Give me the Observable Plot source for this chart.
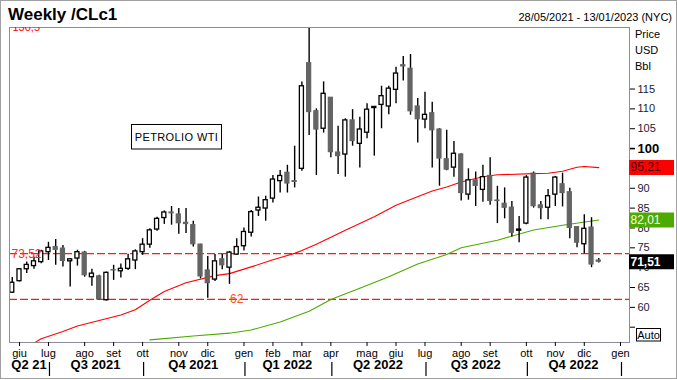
<!DOCTYPE html>
<html><head><meta charset="utf-8">
<script src="https://cdn.jsdelivr.net/npm/d3@7"></script>
<script src="https://cdn.jsdelivr.net/npm/@observablehq/plot@0.6"></script>
<style>
body{margin:0;background:#fff;font-family:Arial,"Liberation Sans",sans-serif;}
#wrap{position:relative;width:677px;height:380px;overflow:hidden;background:#fff;}
#wrap svg.plot{position:absolute;left:0;top:0;}
#over{position:absolute;left:0;top:0;pointer-events:none;}
</style></head><body>
<div id="wrap"></div>
<script>
// ---- data (weekly WTI candles, first week ending 2021-05-28) ----
const firstWeek = "2021-05-28";
const open = [63.7,66.6,69.6,70.4,71.4,73.9,75.2,74.8,71.6,72.3,
73.8,67.6,67.8,61.8,69.4,69.1,69.7,71.8,73.9,75.8,
79.6,82.5,83.9,83.4,81.3,80.7,75.8,69.3,67.0,72.1,
70.0,73.3,75.4,78.8,84.4,84.9,87.4,91.8,93.9,91.8,
94.9,121.5,109.4,105.0,112.8,99.0,98.5,107.1,101.2,104.0,
110.2,111.0,110.6,114.8,121.0,120.1,110.6,107.3,108.9,104.8,
97.3,95.2,98.5,88.4,92.0,89.6,93.1,86.9,86.1,85.1,
79.3,81.1,93.7,85.7,85.1,88.4,91.0,89.0,80.2,75.9,
80.1,71.8];
const high = [67.5,69.7,71.4,72.7,74.4,76.4,77.1,75.6,72.3,74.4,
74.1,69.6,68.1,68.9,70.6,70.9,73.4,74.5,77.3,79.8,
82.7,84.3,85.4,84.9,84.9,81.7,75.9,72.8,73.3,73.3,
74.1,77.3,80.0,84.4,87.8,88.0,93.2,94.5,95.8,100.6,
116.8,130.5,110.0,116.8,112.8,105.6,107.5,109.8,107.9,111.3,
110.6,115.7,115.7,120.5,123.2,123.7,112.6,114.2,111.7,105.0,
104.6,101.8,98.7,94.9,94.1,95.8,97.7,90.5,90.1,86.7,
82.9,93.2,94.1,86.7,89.7,93.0,93.8,90.0,80.4,83.3,
82.6,72.3];
const low = [63.5,66.4,68.5,69.6,71.0,71.8,70.6,70.2,65.1,70.4,
67.6,65.3,61.8,61.6,66.8,67.4,69.3,69.5,73.1,74.9,
79.2,80.9,80.7,78.4,78.6,75.2,67.2,62.3,66.5,69.5,
65.8,73.1,74.2,77.7,82.9,81.7,86.3,88.8,88.8,90.1,
94.3,103.3,93.2,103.9,97.7,93.5,92.8,100.6,95.1,102.5,
98.1,105.0,108.5,111.3,117.0,108.4,101.4,105.0,95.1,90.5,
94.4,92.8,86.8,87.0,85.4,86.5,85.7,81.1,82.3,77.7,
76.3,80.8,85.0,82.1,82.1,85.4,85.3,77.3,75.0,73.5,
70.0,71.2];
const close = [66.2,69.6,70.7,71.6,74.1,75.0,74.5,71.7,72.1,73.9,
68.1,68.5,62.0,68.7,69.3,69.7,72.1,74.1,75.8,79.4,
82.3,83.9,83.7,81.2,81.0,75.9,67.8,66.1,71.6,70.6,
73.8,75.2,79.0,84.0,85.1,87.0,92.2,93.1,91.2,91.6,
115.7,109.2,104.8,113.8,99.1,98.1,107.1,101.9,104.8,109.8,
110.5,113.2,115.1,118.9,120.7,109.4,107.4,108.5,104.6,97.5,
94.7,98.7,88.8,92.0,90.6,92.8,86.8,86.8,85.1,78.8,
79.6,92.7,85.5,85.0,88.0,92.7,88.8,80.0,76.3,79.8,
70.8,71.51];

// moving averages, read at sampled weeks (week index from first week)
const redWeeks  = [3,4,7,9,12,15,17,19,21,24,28,30,33,36,39,40,42,46,50,53,55,58,60,62,65,67,72,74,76,78,79,81];
const redValues = [51.0,52.1,53.9,55.3,56.7,58.1,59.4,61.8,64.0,66.2,68.0,68.5,70.2,72.0,73.6,74.3,75.9,79.4,82.8,85.7,87.2,89.3,90.3,91.6,92.9,93.4,93.7,93.8,94.3,95.3,95.5,95.21];
const greenWeeks  = [19,25,30,33,37,41,44,48,52,56,60,62,67,72,76,81];
const greenValues = [51.8,52.8,53.5,54.3,56.3,59.0,62.0,64.8,67.7,70.9,73.3,75.0,76.9,79.5,80.7,82.01];

// reference levels
const levels = [73.52, 62];
const levelLabelWeek = 31;

// axis ticks
const monthTickDates = ["2021-06-04","2021-07-02","2021-08-06","2021-09-03","2021-10-01","2021-11-05","2021-12-03",
  "2022-01-07","2022-02-04","2022-03-04","2022-04-01","2022-05-06","2022-06-03","2022-07-01","2022-08-05",
  "2022-09-02","2022-10-07","2022-11-04","2022-12-02","2023-01-06"];
const monthLabels = ["giu","lug","ago","set","ott","nov","dic","gen","feb","mar","apr","mag","giu","lug","ago","set","ott","nov","dic","gen"];
const quarterStarts = ["2021-07-02","2021-10-01","2022-01-07","2022-04-01","2022-07-01","2022-10-07","2023-01-06"];
const quarterLabels = ["Q2 21","Q3 2021","Q4 2021","Q1 2022","Q2 2022","Q3 2022","Q4 2022"];
const priceTicks = [55,60,65,70,75,80,85,90,95,105,110,115];
const hiddenTickLabels = [55,95];   // covered in the reference
const boldTick = [100];

// ---- build ----
const fmt = v => String(v).replace(".", ",");
const start = new Date(firstWeek + "T00:00:00Z");
const wk = i => d3.utcFriday.offset(start, i);
const candles = open.map((o, i) => ({date: wk(i), open: o, high: high[i], low: low[i], close: close[i]}));
const redMA = redWeeks.map((w, i) => ({date: wk(w), value: redValues[i]}));
const greenMA = greenWeeks.map((w, i) => ({date: wk(w), value: greenValues[i]}));
const xDomain = [new Date("2021-05-25T08:00:00Z"), new Date("2023-01-14T17:00:00Z")];
const tickDates = monthTickDates.map(s => new Date(s + "T00:00:00Z"));
const tickLabel = new Map(tickDates.map((d, i) => [+d, monthLabels[i]]));
const qDates = quarterStarts.map(s => new Date(s + "T00:00:00Z"));
const quarters = quarterLabels.map((q, i) => {
  const a = i === 0 ? xDomain[0] : qDates[i - 1];
  const b = qDates[i];
  return {label: q, date: new Date((+a + +b) / 2)};
});
const badges = [
  {value: redValues[redValues.length - 1], bg: "#ff0000", fg: "#3a0000", weight: "normal"},
  {value: greenValues[greenValues.length - 1], bg: "#4caa00", fg: "#ffffff", weight: "normal"},
  {value: close[close.length - 1], bg: "#000000", fg: "#ffffff", weight: "bold"}
];
const W = 677, H = 380, mL = 9, mR = 48, mT = 27, mB = 38;
const frameW = W - mL - mR;

const up = d => d.close >= d.open;
const marks = [
  Plot.ruleY(levels, {stroke: "#ff1a1a", strokeWidth: 1.2, strokeDasharray: "8,3"}),
  Plot.line(redMA, {x: "date", y: "value", stroke: "#ff0000", strokeWidth: 1.1, clip: true}),
  Plot.line(greenMA, {x: "date", y: "value", stroke: "#4caa00", strokeWidth: 1.1, clip: true}),
  Plot.ruleX(candles, {x: "date", y1: "low", y2: "high", stroke: "#000", strokeWidth: 1.4, clip: true}),
  Plot.rect(candles, {filter: d => !up(d), x1: d => d3.utcHour.offset(d.date, -84), x2: d => d3.utcHour.offset(d.date, 84),
    y1: "open", y2: "close", fill: "#646464", stroke: "#646464", strokeWidth: 1.2, insetLeft: 1.6, insetRight: 1.6}),
  Plot.rect(candles, {filter: d => up(d), x1: d => d3.utcHour.offset(d.date, -84), x2: d => d3.utcHour.offset(d.date, 84),
    y1: "open", y2: "close", fill: "#fff", stroke: "#000", strokeWidth: 1.3, insetLeft: 1.6, insetRight: 1.6}),
  Plot.frame({stroke: "#8c8c9c"}),
  Plot.text([d3.max(high)], {frameAnchor: "top-left", text: d => fmt(d), dx: 3, lineAnchor: "middle", fill: "#ff0000", fontSize: 11, clip: true}),
  Plot.text([levels[0]], {y: d => d, text: d => fmt(d), frameAnchor: "left", dx: 2, textAnchor: "start", fill: "#ff2a2a", fontSize: 12}),
  Plot.text([levels[1]], {y: d => d, x: () => wk(levelLabelWeek), text: d => fmt(d), textAnchor: "middle", fill: "#ff5020", fontSize: 12}),
  Plot.axisX(tickDates, {tickSize: 4, tickPadding: 3, tickFormat: d => tickLabel.get(+d), label: null, fontSize: 11, stroke: "#000"}),
  Plot.ruleX(qDates, {dx: 1, insetTop: 335, insetBottom: -34, stroke: "#000", strokeWidth: 1.2}),
  Plot.text(quarters, {x: "date", text: "label", frameAnchor: "bottom", dy: 26, fontWeight: "bold", fontSize: 13}),
  Plot.axisY(priceTicks, {anchor: "right", tickSize: 5, tickPadding: 3, label: null, fontSize: 11, fill: "#1a1a38",
    tickFormat: d => hiddenTickLabels.includes(d) ? "" : String(d)}),
  Plot.axisY(boldTick, {anchor: "right", tickSize: 5, tickPadding: 3, label: null, fontSize: 13, fontWeight: "bold", strokeWidth: 1.6}),
  ...badges.map(b => Plot.ruleY([b.value], {stroke: b.bg, strokeWidth: 15, insetLeft: frameW, insetRight: -45})),
  ...badges.map(b => Plot.text([b.value], {y: d => d, text: d => fmt(d), frameAnchor: "right", textAnchor: "start", dx: 1,
    fill: b.fg, fontSize: 12, fontWeight: b.weight}))
];

const chart = Plot.plot({
  width: W, height: H, marginLeft: mL, marginRight: mR, marginTop: mT, marginBottom: mB,
  x: {type: "utc", domain: xDomain},
  y: {domain: [51.15, 130.5]},
  style: {fontFamily: "Arial, 'Liberation Sans', sans-serif", fontSize: "11px", background: "#fff", overflow: "visible"},
  marks
});
chart.classList.add("plot");
const wrap = document.getElementById("wrap");
wrap.appendChild(chart);

// static header / annotation text
const ns = "http://www.w3.org/2000/svg";
const over = document.createElementNS(ns, "svg");
over.setAttribute("id", "over");
over.setAttribute("width", W); over.setAttribute("height", H);
over.innerHTML = `
  <rect x="0.5" y="0.5" width="676" height="378" fill="none" stroke="#a0a0a0"/>
  <text x="8" y="20" font-family="Arial, 'Liberation Sans', sans-serif" font-weight="bold" font-size="17">Weekly /CLc1</text>
  <text x="672" y="20.5" text-anchor="end" font-family="Arial, 'Liberation Sans', sans-serif" font-size="11">28/05/2021 - 13/01/2023 (NYC)</text>
  <g font-family="Arial, 'Liberation Sans', sans-serif" font-size="11" fill="#000">
    <text x="635" y="38">Price</text>
    <text x="635" y="54">USD</text>
    <text x="635" y="70">Bbl</text>
  </g>
  <rect x="131.5" y="124.5" width="90" height="24.5" fill="#fff" stroke="#000"/>
  <text x="176.5" y="141" text-anchor="middle" font-family="Arial, 'Liberation Sans', sans-serif" font-size="11" letter-spacing="0.4">PETROLIO WTI</text>
  <rect x="636.5" y="328.5" width="24" height="12.5" fill="#fff" stroke="#000"/>
  <text x="648.5" y="339" text-anchor="middle" font-family="Arial, 'Liberation Sans', sans-serif" font-size="11">Auto</text>
`;
wrap.appendChild(over);
</script>
</body></html>
